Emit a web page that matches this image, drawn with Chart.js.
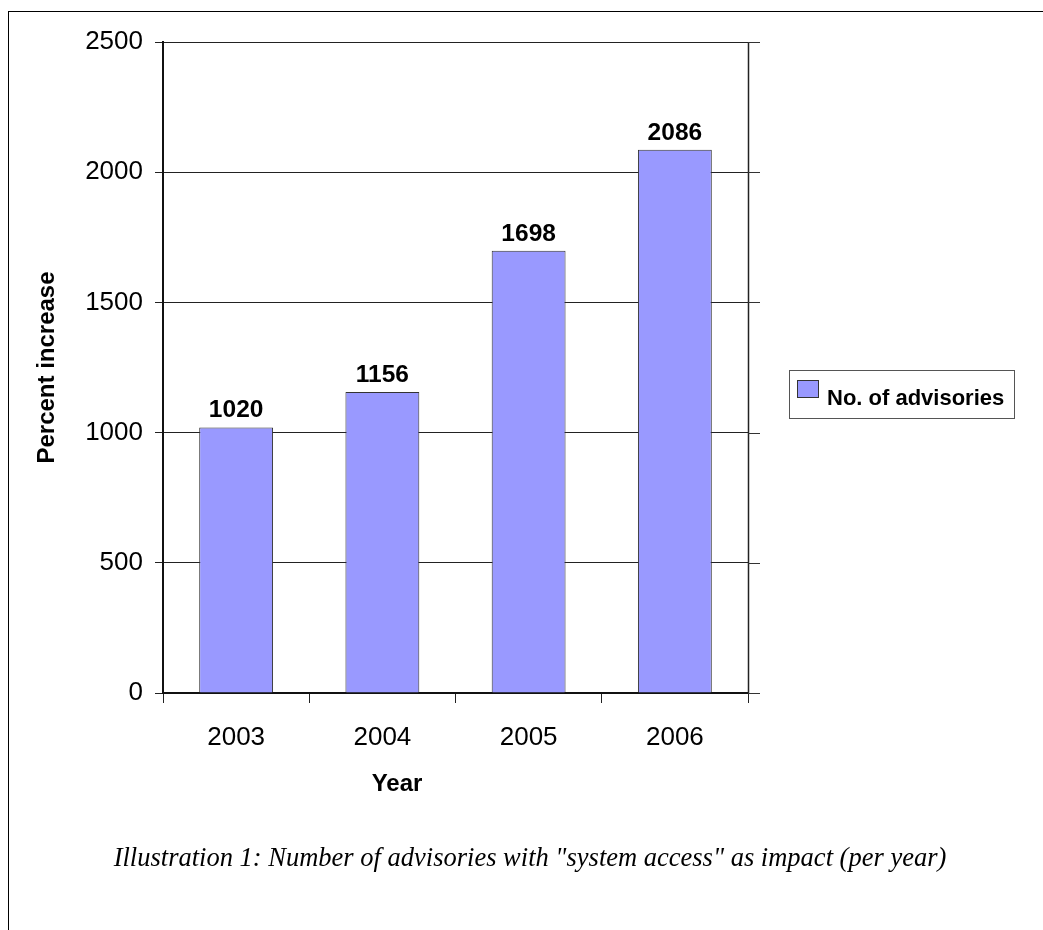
<!DOCTYPE html>
<html>
<head>
<meta charset="utf-8">
<script src="https://cdn.jsdelivr.net/npm/chart.js@4/dist/chart.umd.min.js"></script>
<style>
  html, body { margin: 0; padding: 0; background: #fff; }
  #wrap { position: relative; width: 1043px; height: 930px; overflow: hidden; }
  #frame { position: absolute; left: 8px; top: 11px; right: 0; bottom: 0; border-top: 1px solid #000; border-left: 1px solid #000; }
  #c { position: absolute; left: 0; top: 0; }
  #caption { position: absolute; left: 17px; width: 1026px; top: 841px; line-height: 32px; text-align: center;
             font-family: "Liberation Serif", "DejaVu Serif", serif; font-style: italic; font-size: 26.5px; color: #000; }
</style>
</head>
<body>
<div id="wrap">
  <div id="frame"></div>
  <canvas id="c" width="1043" height="930"></canvas>
  <div id="caption">Illustration 1: Number of advisories with "system access" as impact (per year)</div>
</div>
<script>
const categories = ["2003", "2004", "2005", "2006"];
const advisories = [1020, 1156, 1698, 2086];
const seriesLabel = "No. of advisories";
const yTicks = [0, 500, 1000, 1500, 2000, 2500];
const xTitle = "Year";
const yTitle = "Percent increase";

const FONT = '"Liberation Sans", Arial, sans-serif';

const decorPlugin = {
  id: 'decor',
  afterDraw(chart) {
    const ctx = chart.ctx;
    const area = chart.chartArea;
    const ys = chart.scales.y;
    ctx.save();
    // right border of plot and right tick extensions
    ctx.strokeStyle = '#222';
    ctx.lineWidth = 1.5;
    ctx.beginPath();
    ctx.moveTo(Math.round(area.right) + 0.5, area.top);
    ctx.lineTo(Math.round(area.right) + 0.5, area.bottom);
    ctx.stroke();
    ctx.lineWidth = 1;
    ctx.strokeStyle = '#333';
    yTicks.forEach(v => {
      const py = Math.round(ys.getPixelForValue(v)) + 0.5;
      ctx.beginPath();
      ctx.moveTo(area.right, py);
      ctx.lineTo(area.right + 12, py);
      ctx.stroke();
    });
    // data labels
    const meta = chart.getDatasetMeta(0);
    ctx.fillStyle = '#000';
    ctx.font = 'bold 24.5px ' + FONT;
    ctx.textAlign = 'center';
    ctx.textBaseline = 'alphabetic';
    meta.data.forEach((bar, i) => {
      ctx.fillText(String(advisories[i]), bar.x, bar.y - 10);
    });
    // x axis title (placed left of centre as in the original)
    ctx.font = 'bold 24px ' + FONT;
    ctx.textBaseline = 'middle';
    ctx.fillText(xTitle, area.left + 234, 784);
    // legend
    const lx = area.right + 41, ly = 370, lw = 225, lh = 48;
    ctx.strokeStyle = '#555';
    ctx.lineWidth = 1;
    ctx.strokeRect(Math.round(lx) + 0.5, ly + 0.5, lw, lh);
    const ds = chart.data.datasets[0];
    ctx.fillStyle = ds.backgroundColor;
    ctx.fillRect(lx + 8, ly + 10, 21, 17);
    ctx.strokeStyle = '#333';
    ctx.strokeRect(Math.round(lx + 8) + 0.5, ly + 10.5, 21, 17);
    ctx.fillStyle = '#000';
    ctx.font = 'bold 22px ' + FONT;
    ctx.textAlign = 'left';
    ctx.textBaseline = 'alphabetic';
    ctx.fillText(ds.label, lx + 38, ly + 35);
    ctx.restore();
  }
};

new Chart(document.getElementById('c'), {
  type: 'bar',
  data: {
    labels: categories,
    datasets: [{
      label: seriesLabel,
      data: advisories,
      backgroundColor: '#9999ff',
      borderColor: '#333',
      borderWidth: 1,
      categoryPercentage: 0.505,
      barPercentage: 1.0
    }]
  },
  options: {
    responsive: false,
    devicePixelRatio: 1,
    animation: false,
    layout: { padding: { left: 0, top: 42, right: 295, bottom: 930 - 693 - 104 } },
    plugins: { legend: { display: false }, tooltip: { enabled: false } },
    scales: {
      x: {
        grid: { display: true, drawOnChartArea: false, drawTicks: true, tickLength: 10, color: '#222', offset: true },
        border: { display: true, color: '#111', width: 2 },
        ticks: { color: '#000', font: { family: FONT, size: 26 }, padding: 19 },
        title: { display: false, text: xTitle },
        afterFit(s) { s.height = 104; }
      },
      y: {
        min: 0, max: 2500,
        afterBuildTicks(s) { s.ticks = yTicks.map(v => ({ value: v })); },
        grid: { color: '#222', lineWidth: 1, drawTicks: true, tickLength: 8 },
        border: { display: true, color: '#111', width: 2 },
        ticks: { color: '#000', font: { family: FONT, size: 26 }, padding: 12, callback: v => String(v) },
        title: { display: true, text: yTitle, color: '#000', font: { family: FONT, size: 24, weight: 'bold' }, padding: { top: 33, bottom: 0 } },
        afterFit(s) { s.width = 163; }
      }
    }
  },
  plugins: [decorPlugin]
});
</script>
</body>
</html>
